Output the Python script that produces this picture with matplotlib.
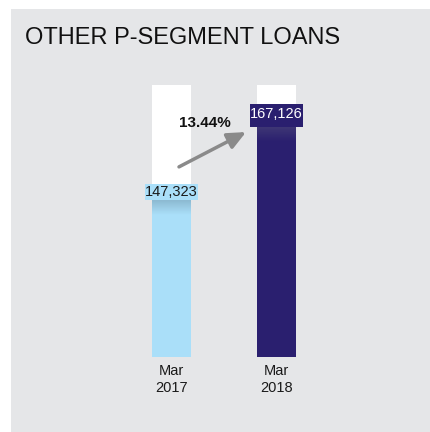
import numpy as np
import matplotlib
matplotlib.use("Agg")
import matplotlib.pyplot as plt
from matplotlib.patches import Rectangle

# data
periods = ["Mar\n2017", "Mar\n2018"]
loans = [147323, 167126]
bar_colors = ["#aadff9", "#2a1f6f"]
label_text_colors = ["#1a1a1a", "#ffffff"]

# value axis range (white columns run to the top of the scale)
Y_MIN = 104500
Y_MAX = 171800

plt.rcParams["font.family"] = ["Liberation Sans", "DejaVu Sans"]

fig = plt.figure(figsize=(4.3, 4.32), dpi=100)
fig.patch.set_facecolor("white")
# grey card behind everything
fig.add_artist(Rectangle((11 / 430, 0), 1 - 11 / 430, 1 - 9 / 432,
                         transform=fig.transFigure, facecolor="#e5e6e8",
                         edgecolor="none", zorder=0))

fig.text(25 / 430, 1 - 38 / 432, "OTHER P-SEGMENT LOANS", fontsize=17,
         color="#111111", va="center", ha="left")

ax_w_px, ax_h_px = 144, 272
ax = fig.add_axes([152 / 430, 1 - 357 / 432, ax_w_px / 430, ax_h_px / 432])
ax.set_facecolor("none")

bar_w = 39 / 105
x = np.arange(len(loans))
ax.set_xlim(-bar_w / 2, len(loans) - 1 + bar_w / 2)
ax.set_ylim(Y_MIN, Y_MAX)

px_x = (len(loans) - 1 + bar_w) / ax_w_px
px_y = (Y_MAX - Y_MIN) / ax_h_px

ax.bar(x, Y_MAX - Y_MIN, bottom=Y_MIN, width=bar_w, color="white", zorder=1)
ax.bar(x, np.array(loans) - Y_MIN, bottom=Y_MIN, width=bar_w,
       color=bar_colors, zorder=2)

# value boxes sitting on top of each bar, with a soft shade underneath
box_h_px = [16, 23]
box_w = 53 * px_x
shade_h = 15 * px_y
for i, v in enumerate(loans):
    bh = box_h_px[i] * px_y
    ax.add_patch(Rectangle((i - box_w / 2, v - bh), box_w, bh,
                           facecolor=bar_colors[i], edgecolor="none",
                           zorder=4, clip_on=False))
    ax.text(i, v - bh / 2 + (1 * px_y if i else 0), f"{v:,}", ha="center",
            va="center", fontsize=10.5, color=label_text_colors[i], zorder=5)
    grad = np.zeros((32, 1, 4))
    grad[..., :3] = (0.45, 0.45, 0.52) if i else (0.25, 0.35, 0.42)
    grad[:, 0, 3] = np.linspace(0.28, 0.0, 32)
    ax.imshow(grad, extent=(i - bar_w / 2, i + bar_w / 2,
                            v - bh - shade_h, v - bh),
              origin="upper", aspect="auto", zorder=3, interpolation="bilinear")

ax.set_xlim(-bar_w / 2, len(loans) - 1 + bar_w / 2)
ax.set_ylim(Y_MIN, Y_MAX)

# growth arrow and label
growth = (loans[1] / loans[0] - 1) * 100
ax.annotate("", xy=(0.653, 0.827), xytext=(0.1875, 0.699),
            xycoords="axes fraction", textcoords="axes fraction",
            arrowprops=dict(arrowstyle="-|>,head_length=1.1,head_width=0.5",
                            color="#8a8a8a", lw=2.5, mutation_scale=10,
                            shrinkA=0, shrinkB=0),
            zorder=6)
ax.text(0.368, 0.860, f"{growth:.2f}%", transform=ax.transAxes,
        ha="center", va="center", fontsize=11, fontweight="bold",
        color="#111111", zorder=6)

ax.set_xticks(x, periods)
ax.tick_params(axis="x", length=0, pad=5, labelsize=10.5, colors="#1a1a1a")
for lbl in ax.get_xticklabels():
    lbl.set_linespacing(1.25)
ax.set_yticks([])
for s in ax.spines.values():
    s.set_visible(False)

fig.savefig("out.png", dpi=100)
